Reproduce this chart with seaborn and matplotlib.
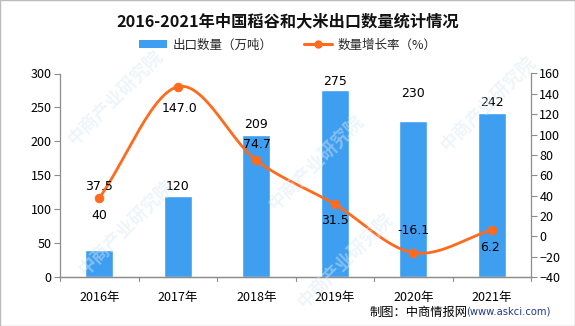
import numpy as np
import pandas as pd
import matplotlib
matplotlib.use("Agg")
import matplotlib.pyplot as plt
import seaborn as sns
from matplotlib.patches import Patch
from matplotlib.lines import Line2D

years = ["2016年", "2017年", "2018年", "2019年", "2020年", "2021年"]
volume = [40, 120, 209, 275, 230, 242]
growth = [37.5, 147.0, 74.7, 31.5, -16.1, 6.2]
growth_labels = ["37.5", "147.0", "74.7", "31.5", "-16.1", "6.2"]
left_ticks = [0, 50, 100, 150, 200, 250, 300]
right_ticks = [-40, -20, 0, 20, 40, 60, 80, 100, 120, 140, 160]

sns.set_theme(style="white")
plt.rcParams['font.family'] = ['Noto Sans CJK SC', 'DejaVu Sans']

BAR = "#3E9EF0"
LINE = "#FF6A1C"

fig = plt.figure(figsize=(5.75, 3.26), dpi=100)
ax = fig.add_axes([60/575, 49/326, 471/575, 203.5/326])

df = pd.DataFrame({"year": years, "volume": volume})
sns.barplot(data=df, x="year", y="volume", color=BAR, width=0.36, ax=ax,
            saturation=1, zorder=2)
ax.set_ylim(0, 300)
ax.set_xlim(-0.5, len(years) - 0.5)
ax.set_yticks(left_ticks)
ax.set_xlabel("")
ax.set_ylabel("")

ax2 = ax.twinx()
ax2.set_ylim(-40, 160)
ax2.set_yticks(right_ticks)

# smooth curve (Catmull-Rom through the data points)
xs = np.arange(len(growth), dtype=float)
ys = np.array(growth, dtype=float)
px = np.concatenate([[2*xs[0]-xs[1]], xs, [2*xs[-1]-xs[-2]]])
py = np.concatenate([[2*ys[0]-ys[1]], ys, [2*ys[-1]-ys[-2]]])
cx, cy = [], []
for i in range(1, len(px) - 2):
    t = np.linspace(0, 1, 30)
    p0, p1, p2, p3 = py[i-1], py[i], py[i+1], py[i+2]
    q0, q1, q2, q3 = px[i-1], px[i], px[i+1], px[i+2]
    fy = 0.5*((2*p1) + (-p0+p2)*t + (2*p0-5*p1+4*p2-p3)*t**2 + (-p0+3*p1-3*p2+p3)*t**3)
    fx = 0.5*((2*q1) + (-q0+q2)*t + (2*q0-5*q1+4*q2-q3)*t**2 + (-q0+3*q1-3*q2+q3)*t**3)
    cx.extend(fx); cy.extend(fy)
ax2.plot(cx, cy, color=LINE, lw=2.0, zorder=3, solid_capstyle="round")
sns.scatterplot(x=xs, y=ys, color=LINE, s=40, edgecolor=LINE, ax=ax2, zorder=4,
                legend=False)

for a in (ax, ax2):
    for s in a.spines.values():
        s.set_color("#8c8c8c")
        s.set_linewidth(0.9)
    a.spines["top"].set_visible(False)
    a.tick_params(axis="both", labelsize=9, colors="black", length=4,
                  width=0.8, direction="out")
    a.tick_params(axis="y", color="#8c8c8c")
    a.grid(False)
ax.spines["right"].set_visible(False)
ax2.spines["left"].set_visible(False)
ax.tick_params(axis="y", left=True, pad=2)
ax2.tick_params(axis="y", right=True, pad=2)
ax.set_xticks(np.arange(len(years)))
ax.set_xticklabels(years, fontsize=9)
ax.tick_params(axis="x", bottom=False, pad=6)
for b in np.arange(-0.5, len(years), 1.0):
    ax.plot([b, b], [0, -0.018], transform=ax.get_xaxis_transform(),
            color="#8c8c8c", lw=0.8, clip_on=False)

# bar labels
bar_off = [20, 2, 3, 2, 15, 3]
for i, v in enumerate(volume):
    ax.annotate(str(v), (i, v), xytext=(0, bar_off[i]), textcoords="offset points",
                ha="center", va="bottom", fontsize=9, color="black",
                family="DejaVu Sans")
# line labels
line_off = [(0, 3.5, "bottom"), (1.5, -11, "top"), (0.5, 7, "bottom"),
            (0, -7, "top"), (0, 11, "bottom"), (-1.5, -8, "top")]
for i, v in enumerate(growth):
    dx, dy, va = line_off[i]
    ax2.annotate(growth_labels[i], (i, v), xytext=(dx, dy), textcoords="offset points",
                 ha="center", va=va, fontsize=9, color="black",
                 family="DejaVu Sans", zorder=5)

# watermark (kept inside the figure)
for (wx, wy) in [(0.20, 0.70), (0.55, 0.50), (0.85, 0.68), (0.22, 0.30), (0.60, 0.20)]:
    fig.text(wx, wy, "中商产业研究院", rotation=45, fontsize=13, color="#dbe9f5",
             alpha=0.45, ha="center", va="center", zorder=0, fontweight="bold")

fig.text(0.5, 0.935, "2016-2021年中国稻谷和大米出口数量统计情况", ha="center",
         va="center", fontsize=11.7, fontweight="bold", color="#111111")

handles = [Patch(facecolor=BAR, edgecolor="none"),
           Line2D([0], [0], color=LINE, lw=2.2, marker="o", markersize=5)]
fig.legend(handles, ["出口数量（万吨）", "数量增长率（%）"], loc="center",
           bbox_to_anchor=(0.5, 0.862), ncol=2, frameon=False, fontsize=9,
           handlelength=2.3, handleheight=0.6, columnspacing=2.5, handletextpad=0.4)

fig.text(370/575, 0.043, "制图：中商情报网", ha="left", va="center", fontsize=8.8,
         color="black")
fig.text(466/575, 0.043, "(www.askci.com)", ha="left", va="center", fontsize=7.2,
         color="#1f3a8a", family="DejaVu Sans")

fig.patches.append(plt.Rectangle((0, 0), 1, 1, transform=fig.transFigure,
                                 fill=False, edgecolor="#bbbbbb", lw=1))

fig.savefig("out.png", dpi=100)
